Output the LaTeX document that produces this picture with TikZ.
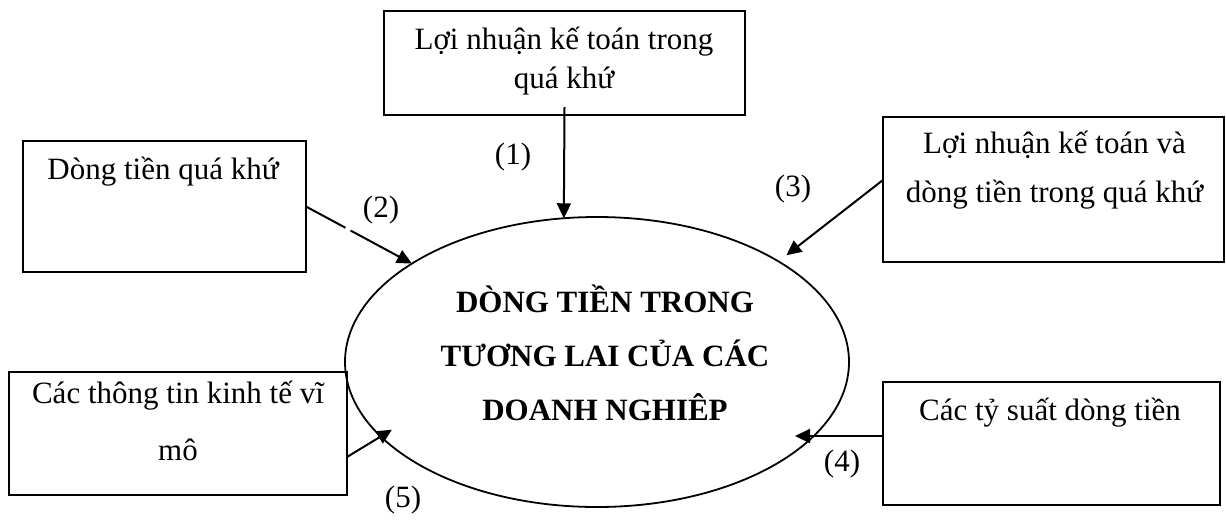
\documentclass[tikz,border=0pt]{standalone}
\usepackage{fontspec}
\setmainfont{Liberation Serif}
\usetikzlibrary{arrows.meta,shapes.geometric}
\begin{document}
\begin{tikzpicture}[x=1pt,y=-1pt,
  box/.style={draw,line width=2pt,rectangle,inner sep=0pt,outer sep=0pt},
  txt/.style={font=\fontsize{31}{39}\selectfont,align=center,anchor=base,inner sep=0pt},
  flow/.style={line width=2pt,-{Triangle[length=15pt,width=14pt]}},
  num/.style={font=\fontsize{31}{37}\selectfont,inner sep=0pt}]
\useasboundingbox (0,0) rectangle (1226,523);

% central ellipse (text nodes are placed by the baseline of their last line)
\node[draw,ellipse,line width=1.8pt,minimum width=504pt,minimum height=290pt,
      inner sep=0pt,outer sep=0pt] (el) at (597,362) {};
\node[txt,font=\bfseries\fontsize{31}{54}\selectfont] (tel) at (605,420)
  {DÒNG TIỀN TRONG\\TƯƠNG LAI CỦA CÁC\\DOANH NGHIÊP};

% source boxes
\node[box,minimum width=361pt,minimum height=104pt] (b1) at (564.5,63) {};
\node[txt] (t1) at (564,88) {Lợi nhuận kế toán trong\\quá khứ};

\node[box,minimum width=283pt,minimum height=131pt] (b2) at (164.5,206.5) {};
\node[txt] (t2) at (163,179) {Dòng tiền quá khứ};

\node[box,minimum width=341pt,minimum height=145pt] (b3) at (1053.5,189.5) {};
\node[txt,font=\fontsize{31}{49}\selectfont] (t3) at (1054.5,202)
  {Lợi nhuận kế toán và\\dòng tiền trong quá khứ};

\node[box,minimum width=337pt,minimum height=123pt] (b4) at (1051.5,443.5) {};
\node[txt] (t4) at (1050,420) {Các tỷ suất dòng tiền};

\node[box,minimum width=338pt,minimum height=123pt] (b5) at (178,433.5) {};
\node[txt,font=\fontsize{31}{57}\selectfont] (t5) at (178,460)
  {Các thông tin kinh tế vĩ\\mô};

% arrow tip that reaches a little into the ellipse
\coordinate (tip4) at (795,436);

% connectors
\draw[flow] ([yshift=8pt]b1.south) -- (el.103);
\draw[flow,dash pattern=on 44.8pt off 5.8pt on 200pt] (b2.east) -- (el.152.3);
\draw[flow,shorten >=10pt] ([yshift=9.5pt]b3.west) -- (el.29.1);
\draw[flow] ([yshift=7.5pt]b4.west) -- (tip4);
\draw[flow,shorten >=-13pt] ([yshift=-23.5pt]b5.east) -- (el.199.1);

% connector labels
\node[num] (n1) at (513,157) {(1)};
\node[num] (n2) at (381,210) {(2)};
\node[num] (n3) at (793,189) {(3)};
\node[num] (n4) at (842,464) {(4)};
\node[num] (n5) at (403,500) {(5)};
\end{tikzpicture}
\end{document}
